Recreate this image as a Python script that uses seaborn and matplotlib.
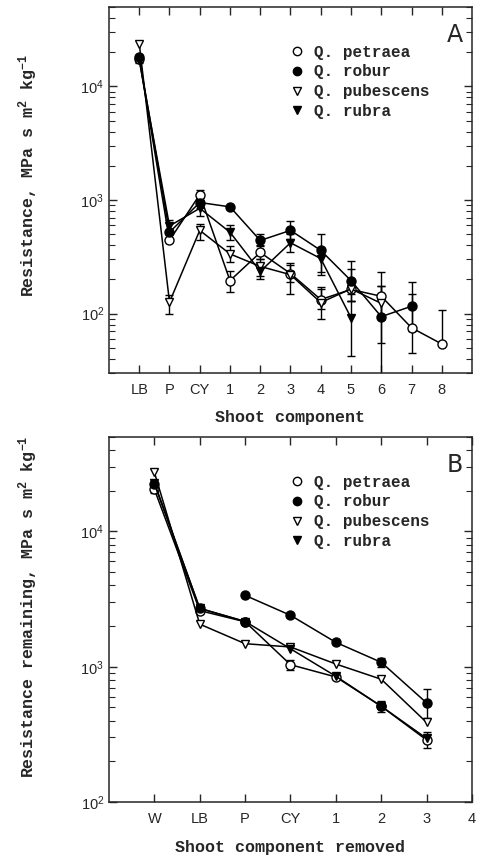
import numpy as np
import matplotlib
matplotlib.use("Agg")
import matplotlib.pyplot as plt
from matplotlib.lines import Line2D
import seaborn as sns

nan = np.nan

# Panel A: resistance of each shoot component
cats_a = ['LB', 'P', 'CY', '1', '2', '3', '4', '5', '6', '7', '8']
petraea_a = [17500, 441, 1115, 195, 345, 225, 133, 163, 142, 75, 54]
petraea_a_lo = [16500, nan, 1000, 155, 300, 190, 110, 130, 90, 45, nan]
petraea_a_hi = [18500, nan, 1230, 235, 400, 270, 165, 200, 230, 150, 108]
robur_a = [18000, 520, 950, 870, 440, 540, 360, 195, 94, 116, nan]
robur_a_lo = [17000, nan, 850, nan, 390, 450, 230, 150, 20, 70, nan]
robur_a_hi = [19000, nan, 1050, nan, 500, 650, 500, 290, 174, 190, nan]
pubescens_a = [23800, 126, 540, 335, 260, 220, 125, 165, 123, nan, nan]
pubescens_a_lo = [nan, 100, 440, 285, 215, 150, 90, 130, 55, nan, nan]
pubescens_a_hi = [nan, 145, 620, 390, 300, 280, 170, 245, 174, nan, nan]
rubra_a = [17000, 590, 845, 520, 235, 420, 305, 92, nan, nan, nan]
rubra_a_lo = [16000, 500, 720, 440, 200, 350, 220, 42, nan, nan, nan]
rubra_a_hi = [18000, 660, 1000, 600, 280, 500, 380, 130, nan, nan, nan]

# Panel B: resistance remaining after removal
cats_b = ['W', 'LB', 'P', 'CY', '1', '2', '3', '4']
petraea_b = [20500, 2600, 2150, 1035, 840, 510, 287]
petraea_b_lo = [19300, nan, nan, 950, nan, nan, 250]
petraea_b_hi = [21800, nan, nan, 1130, nan, nan, 330]
robur_b = [22500, 2700, 2160, nan, nan, 510, nan]
robur_b_lo = [nan, nan, nan, nan, nan, 460, nan]
robur_b_hi = [nan, nan, nan, nan, nan, 560, nan]
robur_b_upper = [nan, nan, 3370, 2400, 1514, 1078, 540]
robur_b_upper_lo = [nan, nan, nan, nan, nan, 1000, 420]
robur_b_upper_hi = [nan, nan, nan, nan, nan, 1170, 680]
pubescens_b = [27400, 2065, 1480, 1400, 1047, 808, 387]
rubra_b = [23000, 2700, 2160, 1357, 850, 510, 295]

species = ['Q. petraea', 'Q. robur', 'Q. pubescens', 'Q. rubra']
markers = {'Q. petraea': ('o', 'white'), 'Q. robur': ('o', 'black'),
           'Q. pubescens': ('v', 'white'), 'Q. rubra': ('v', 'black')}

sns.set_style('ticks')
plt.rcParams['font.family'] = ['Liberation Sans', 'DejaVu Sans']
plt.rcParams['mathtext.fontset'] = 'custom'
plt.rcParams['mathtext.rm'] = 'Liberation Mono:bold'
plt.rcParams['mathtext.it'] = 'Liberation Mono:bold'
plt.rcParams['mathtext.bf'] = 'Liberation Mono:bold'
mono = {'family': 'Liberation Mono', 'weight': 'bold'}


def draw(ax, vals, lo, hi, name):
    m, fc = markers[name]
    vals = np.array(vals, dtype=float)
    x = np.arange(len(vals))
    # split on gaps so lines break like the original
    ok = ~np.isnan(vals)
    seg = np.cumsum(~ok)
    for s in np.unique(seg[ok]):
        idx = ok & (seg == s)
        sns.lineplot(x=x[idx], y=vals[idx], ax=ax, color='black', lw=1.1,
                     marker=m, markersize=6.5 if m == 'o' else 6,
                     markerfacecolor=fc, markeredgecolor='black',
                     markeredgewidth=1.0, sort=False, legend=False,
                     estimator=None, zorder=3)
    if lo is not None:
        lo = np.array(lo, dtype=float)
        hi = np.array(hi, dtype=float)
        has = ~np.isnan(hi)
        lo = np.where(np.isnan(lo), vals, lo)
        yerr = [vals[has] - lo[has], hi[has] - vals[has]]
        ax.errorbar(x[has], vals[has], yerr=yerr, fmt='none', ecolor='black',
                    elinewidth=1.0, capsize=3, capthick=1.0, zorder=2)


def style(ax, cats, xlim, ylim, letter):
    ax.set_yscale('log')
    ax.set_ylim(*ylim)
    ax.set_xlim(*xlim)
    ax.set_xticks(range(len(cats)))
    ax.set_xticklabels(cats, fontsize=10.5)
    ax.tick_params(axis='both', which='both', direction='in', top=True,
                   right=True, labelsize=10.5)
    ax.tick_params(which='major', length=6, width=1)
    ax.tick_params(which='minor', length=4, width=0.8)
    ax.tick_params(axis='x', pad=7)
    for sp in ax.spines.values():
        sp.set_linewidth(1.1)
    ax.text(0.975, 0.955, letter, transform=ax.transAxes, ha='right',
            va='top', fontsize=17, family='DejaVu Sans')
    handles = [Line2D([], [], ls='none', marker=markers[s][0],
                      markerfacecolor=markers[s][1], markeredgecolor='black',
                      markersize=6) for s in species]
    ax.legend(handles, species, loc='upper left', bbox_to_anchor=(0.5, 0.897),
              frameon=False, handlelength=0.8, handletextpad=0.7,
              labelspacing=0.3, borderpad=0, borderaxespad=0,
              prop={'family': 'Liberation Mono', 'weight': 'bold', 'size': 11.5})


fig = plt.figure(figsize=(4.81, 8.59), dpi=100)
ax1 = fig.add_axes([0.2266, 0.5658, 0.7547, 0.4261])
ax2 = fig.add_axes([0.2266, 0.0664, 0.7547, 0.4249])

draw(ax1, petraea_a, petraea_a_lo, petraea_a_hi, 'Q. petraea')
draw(ax1, pubescens_a, pubescens_a_lo, pubescens_a_hi, 'Q. pubescens')
draw(ax1, rubra_a, rubra_a_lo, rubra_a_hi, 'Q. rubra')
draw(ax1, robur_a, robur_a_lo, robur_a_hi, 'Q. robur')
style(ax1, cats_a, (-1, 11), (30, 5e4), 'A')
ax1.set_xlabel('Shoot component', fontdict=dict(mono, size=12))
ax1.xaxis.set_label_coords(0.5, -0.10)
ax1.set_ylabel('Resistance, MPa s m$^{2}$ kg$^{-1}$', fontdict=dict(mono, size=12))
ax1.yaxis.set_label_coords(-0.19, 0.54)

draw(ax2, petraea_b, petraea_b_lo, petraea_b_hi, 'Q. petraea')
draw(ax2, pubescens_b, None, None, 'Q. pubescens')
draw(ax2, rubra_b, None, None, 'Q. rubra')
draw(ax2, robur_b, robur_b_lo, robur_b_hi, 'Q. robur')
draw(ax2, robur_b_upper, robur_b_upper_lo, robur_b_upper_hi, 'Q. robur')
style(ax2, cats_b, (-1, 7), (100, 5e4), 'B')
ax2.set_xlabel('Shoot component removed', fontdict=dict(mono, size=12))
ax2.xaxis.set_label_coords(0.5, -0.105)
ax2.set_ylabel('Resistance remaining, MPa s m$^{2}$ kg$^{-1}$', fontdict=dict(mono, size=12))
ax2.yaxis.set_label_coords(-0.19, 0.534)

fig.savefig('out.png', dpi=100)
